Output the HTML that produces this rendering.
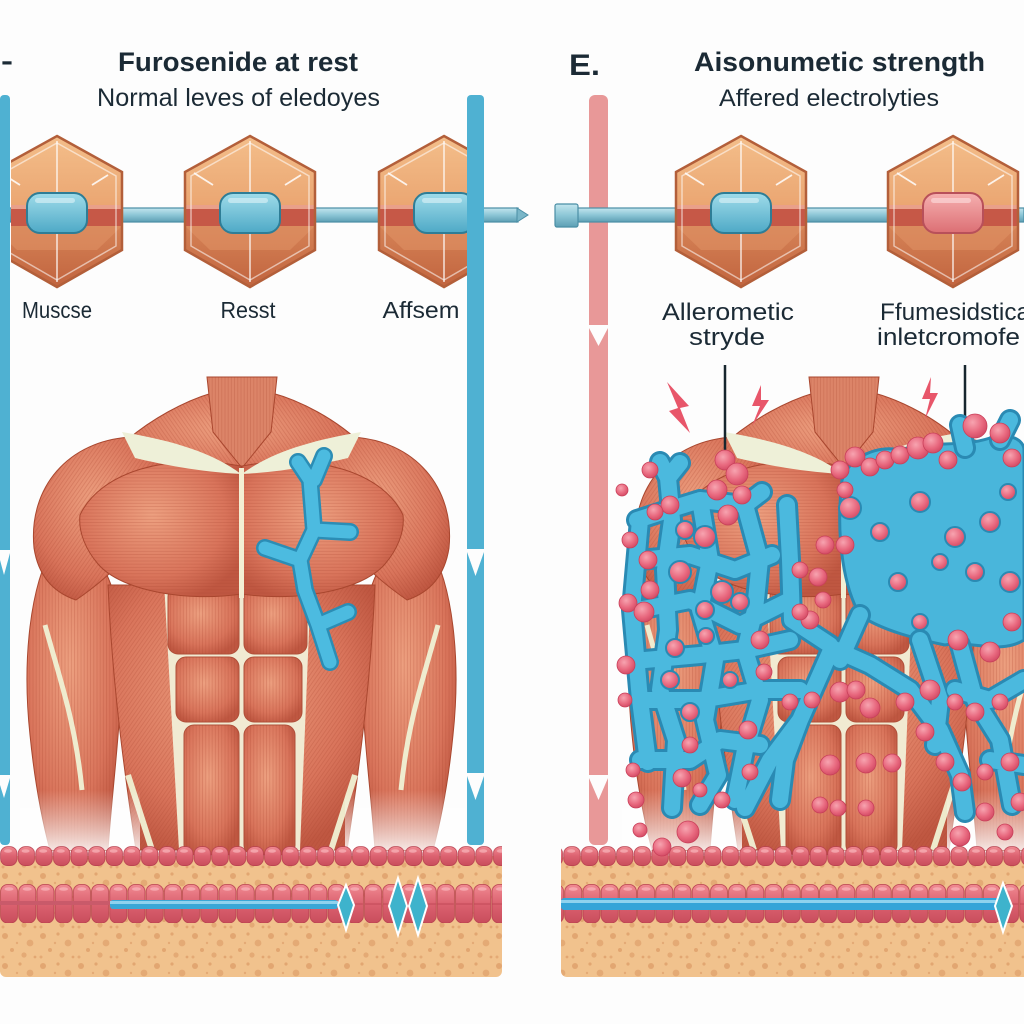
<!DOCTYPE html>
<html><head><meta charset="utf-8"><style>
html,body{margin:0;padding:0;background:#fdfdfd;}
svg{display:block;}
text{font-family:"Liberation Sans",sans-serif;fill:#1b2a35;}
</style></head><body>
<svg width="1024" height="1024" viewBox="0 0 1024 1024" xmlns="http://www.w3.org/2000/svg">
<defs>
  <linearGradient id="ht" x1="0" y1="0" x2="0" y2="1"><stop offset="0" stop-color="#f4c08c"/><stop offset="1" stop-color="#eaa470"/></linearGradient>
  <linearGradient id="hb" x1="0" y1="0" x2="0" y2="1"><stop offset="0" stop-color="#da8a5c"/><stop offset="1" stop-color="#c0623d"/></linearGradient>
  <linearGradient id="rod" x1="0" y1="0" x2="0" y2="1"><stop offset="0" stop-color="#c3e6ee"/><stop offset="0.5" stop-color="#8cc6d6"/><stop offset="1" stop-color="#5d9fb4"/></linearGradient>
  <linearGradient id="pb" x1="0" y1="0" x2="0" y2="1"><stop offset="0" stop-color="#9fdcea"/><stop offset="1" stop-color="#4ea9c6"/></linearGradient>
  <linearGradient id="pp" x1="0" y1="0" x2="0" y2="1"><stop offset="0" stop-color="#f6b0b0"/><stop offset="1" stop-color="#dc6f74"/></linearGradient>
  <radialGradient id="mg" cx="0.45" cy="0.4" r="0.65"><stop offset="0" stop-color="#eda080"/><stop offset="0.7" stop-color="#d9745b"/><stop offset="1" stop-color="#bf5741"/></radialGradient>
  <radialGradient id="pg" cx="0.4" cy="0.35" r="0.7"><stop offset="0" stop-color="#f7a4b0"/><stop offset="0.6" stop-color="#e8687e"/><stop offset="1" stop-color="#d04862"/></radialGradient>
  <linearGradient id="cellg" x1="0" y1="0" x2="0" y2="1"><stop offset="0" stop-color="#f08a92"/><stop offset="0.5" stop-color="#dc6270"/><stop offset="1" stop-color="#c94d5c"/></linearGradient>
  <linearGradient id="fadeW" x1="0" y1="0" x2="0" y2="1"><stop offset="0" stop-color="#fff" stop-opacity="0"/><stop offset="1" stop-color="#fff" stop-opacity="0.85"/></linearGradient>
  <pattern id="sv" width="3.2" height="20" patternUnits="userSpaceOnUse"><line x1="1" y1="0" x2="1" y2="20" stroke="#a84530" stroke-opacity="0.28" stroke-width="0.8"/></pattern>
  <pattern id="sd" width="3.2" height="20" patternUnits="userSpaceOnUse" patternTransform="rotate(35)"><line x1="1" y1="0" x2="1" y2="20" stroke="#a84530" stroke-opacity="0.28" stroke-width="0.8"/></pattern>
  <pattern id="sd2" width="3.2" height="20" patternUnits="userSpaceOnUse" patternTransform="rotate(-35)"><line x1="1" y1="0" x2="1" y2="20" stroke="#a84530" stroke-opacity="0.28" stroke-width="0.8"/></pattern>
  <pattern id="sh" width="20" height="3.2" patternUnits="userSpaceOnUse"><line x1="0" y1="1" x2="20" y2="1" stroke="#a84530" stroke-opacity="0.25" stroke-width="0.8"/></pattern>
  <pattern id="dots" width="38" height="30" patternUnits="userSpaceOnUse">
    <circle cx="5" cy="6" r="3" fill="#dc9a65" opacity="0.7"/><circle cx="20" cy="4" r="1.6" fill="#dc9a65" opacity="0.7"/>
    <circle cx="30" cy="13" r="3.4" fill="#dc9a65" opacity="0.6"/><circle cx="12" cy="20" r="2" fill="#dc9a65" opacity="0.7"/>
    <circle cx="24" cy="25" r="2.6" fill="#dc9a65" opacity="0.6"/><circle cx="35" cy="27" r="1.4" fill="#dc9a65" opacity="0.7"/>
    <circle cx="3" cy="27" r="1.5" fill="#dc9a65" opacity="0.6"/><circle cx="17" cy="13" r="1.2" fill="#dc9a65" opacity="0.6"/>
  </pattern>
  <pattern id="cells1" x="0" y="846" width="17.6" height="22" patternUnits="userSpaceOnUse">
    <rect x="0.6" y="0.6" width="16.4" height="19" rx="7" fill="url(#cellg)" stroke="#b8404f" stroke-width="0.8"/>
    <ellipse cx="8" cy="5" rx="4" ry="1.8" fill="#fbc0c4" opacity="0.6"/>
  </pattern>
  <pattern id="cells2" x="0" y="884" width="18.2" height="40" patternUnits="userSpaceOnUse">
    <rect x="0.6" y="0.5" width="17" height="38.5" rx="7" fill="url(#cellg)" stroke="#b8404f" stroke-width="0.8"/>
    <ellipse cx="9" cy="5" rx="4.5" ry="1.8" fill="#fbc0c4" opacity="0.6"/>
    <line x1="1" y1="20" x2="17" y2="20" stroke="#b8404f" stroke-width="0.8"/>
  </pattern>
  <clipPath id="hc"><polygon points="0,136 65,172 65,250 0,287 -65,250 -65,172"/></clipPath>
  <g id="hex">
    <g clip-path="url(#hc)">
      <rect x="-70" y="130" width="140" height="82" fill="url(#ht)"/>
      <rect x="-70" y="211" width="140" height="80" fill="url(#hb)"/>
      <polygon points="-65,226 65,226 40,250 -40,250" fill="#df9164" opacity="0.6"/>
      <rect x="-70" y="205" width="140" height="21" fill="#c65847"/>
      <rect x="-70" y="205" width="140" height="4" fill="#e9a08a"/>
    </g>
    <polygon points="0,136 65,172 65,250 0,287 -65,250 -65,172" fill="none" stroke="#b35f3a" stroke-width="2.5"/>
    <polygon points="0,143 59,176 59,246 0,280 -59,246 -59,176" fill="none" stroke="#fff" stroke-opacity="0.55" stroke-width="1.5"/>
    <line x1="0" y1="141" x2="0" y2="282" stroke="#fff" stroke-opacity="0.8" stroke-width="1.5"/>
    <line x1="-56" y1="173" x2="-37" y2="185" stroke="#fff" stroke-width="1.8" opacity="0.85"/>
    <line x1="35" y1="185" x2="51" y2="175" stroke="#fff" stroke-width="1.8" opacity="0.85"/>
  </g>
  <!-- torso -->
  <path id="trap" d="M118 448 C150 418 188 400 212 393 L272 393 C298 400 336 418 366 448 L330 482 L154 482 Z"/>
  <path id="neck" d="M207 377 L277 377 L271 432 L242 468 L213 432 Z"/>
  <path id="armL" d="M54 545 C30 585 22 660 30 735 C35 785 42 820 50 850 L108 850 C112 790 122 720 122 650 C120 595 104 552 76 542 Z"/>
  <path id="armR" d="M429 545 C453 585 461 660 453 735 C448 785 441 820 433 850 L375 850 C371 790 361 720 361 650 C363 595 379 552 407 542 Z"/>
  <path id="body" d="M108 585 C112 680 124 770 136 850 L347 850 C359 770 371 680 375 585 Z"/>
  <path id="deltL" d="M34 548 C28 488 68 440 132 437 C168 440 178 472 160 508 C140 548 108 578 76 600 C52 592 38 574 34 548 Z"/>
  <path id="deltR" d="M449 548 C455 488 415 440 351 437 C315 440 305 472 323 508 C343 548 375 578 407 600 C431 592 445 574 449 548 Z"/>
  <path id="pecL" d="M80 515 C100 472 168 452 241 466 L241 594 C190 602 122 592 98 564 C86 550 78 532 80 515 Z"/>
  <path id="pecR" d="M403 515 C383 472 315 452 242 466 L242 594 C293 602 361 592 385 564 C397 550 405 532 403 515 Z"/>
  <g id="abs">
    <rect x="168" y="587" width="71" height="67" rx="10"/>
    <rect x="244" y="587" width="63" height="67" rx="10"/>
    <rect x="176" y="657" width="63" height="65" rx="10"/>
    <rect x="244" y="657" width="58" height="65" rx="10"/>
    <rect x="184" y="725" width="55" height="130" rx="10"/>
    <rect x="244" y="725" width="51" height="130" rx="10"/>
  </g>
  <g id="torso">
    <use href="#trap" fill="url(#mg)" stroke="#a9472f"/><use href="#trap" fill="url(#sd2)"/>
    <use href="#neck" fill="#dc8468" stroke="#a9472f"/><use href="#neck" fill="url(#sv)"/>
    <use href="#armL" fill="url(#mg)" stroke="#a9472f"/><use href="#armL" fill="url(#sv)"/>
    <use href="#armR" fill="url(#mg)" stroke="#a9472f"/><use href="#armR" fill="url(#sv)"/>
    <use href="#body" fill="url(#mg)" stroke="#a9472f"/><use href="#body" fill="url(#sd)"/>
    <path d="M45 625 C60 680 75 720 82 790" stroke="#efeccf" stroke-width="5" fill="none"/>
    <path d="M438 625 C423 680 408 720 401 790" stroke="#efeccf" stroke-width="5" fill="none"/>
    <path d="M164 582 L311 582 L300 850 L179 850 Z" fill="#f1ead2"/>
    <path d="M128 775 L152 850 M355 775 L331 850" stroke="#eeeacc" stroke-width="6" fill="none"/>
    <use href="#abs" fill="url(#mg)" stroke="#b0503a"/><use href="#abs" fill="url(#sv)"/>
    <use href="#deltL" fill="url(#mg)" stroke="#a9472f"/><use href="#deltL" fill="url(#sd)"/>
    <use href="#deltR" fill="url(#mg)" stroke="#a9472f"/><use href="#deltR" fill="url(#sd2)"/>
    <use href="#pecL" fill="url(#mg)" stroke="#a9472f"/><use href="#pecL" fill="url(#sh)"/>
    <use href="#pecR" fill="url(#mg)" stroke="#a9472f"/><use href="#pecR" fill="url(#sh)"/>
    <path d="M122 432 C170 440 212 452 241 474 C200 472 160 464 135 458 Z" fill="#eef0d8"/>
    <path d="M361 432 C313 440 271 452 242 474 C283 472 323 464 348 458 Z" fill="#eef0d8"/>
    <line x1="241.5" y1="468" x2="241.5" y2="598" stroke="#f3efd4" stroke-width="5"/>
    <rect x="20" y="790" width="120" height="60" fill="url(#fadeW)"/>
    <rect x="345" y="790" width="120" height="60" fill="url(#fadeW)"/>
  </g>
  <path id="net" d="M668 478 L672 520 L665 570 L668 630 L660 690 L676 740 L672 808
M700 500 L710 560 L700 610 L715 660 L705 720 L718 775 L700 805
M637 520 L668 510 L700 500 L745 505 L762 492
M640 560 L690 555 L735 570 L772 555
M638 610 L690 600 L740 625 L790 600
M645 660 L700 655 L745 650 L790 640
M640 700 L700 700 L760 690 L800 690
M640 760 L690 760 L720 740 L760 745
M745 505 L760 560 L755 610 L745 650 L760 700 L745 750 L735 800
M787 505 L790 560 L792 620 L830 645
M745 808 L770 760 L800 720 L832 648 L870 665 L910 690 L940 730 L960 775 L965 812
M800 720 L785 760 L780 800
M640 520 L632 610 L640 700 L648 762
M960 645 L975 700 L1000 740 L1012 805
M920 640 L940 700 L935 745
M1024 680 L990 700 L955 690
M1024 765 L990 760
M860 615 L840 660 L832 648
M668 478 L660 462 M668 478 L680 463
M1000 440 L1010 420 M965 448 L960 425"/>
</defs>

<rect width="1024" height="1024" fill="#fdfdfd"/>

<!-- ===== LEFT PANEL ===== -->
<text x="1" y="70" font-size="27" font-weight="bold" textLength="12" lengthAdjust="spacingAndGlyphs">-</text>
<text x="238" y="71" font-size="27" font-weight="bold" text-anchor="middle" textLength="240" lengthAdjust="spacingAndGlyphs">Furosenide at rest</text>
<text x="238.5" y="106" font-size="25" text-anchor="middle" textLength="283" lengthAdjust="spacingAndGlyphs">Normal leves of eledoyes</text>

<rect x="10" y="208" width="508" height="14" fill="url(#rod)" stroke="#4a8ea5" stroke-width="1.2"/>
<polygon points="517,208 528,215 517,222" fill="#79b6c8" stroke="#4a8ea5" stroke-width="1"/>

<svg x="11" y="0" width="456" height="400" viewBox="11 0 456 400" overflow="hidden">
  <use href="#hex" transform="translate(57,0)"/>
  <use href="#hex" transform="translate(250,0)"/>
  <use href="#hex" transform="translate(444,0)"/>
  <rect x="27" y="193" width="60" height="40" rx="13" fill="url(#pb)" stroke="#2e7d96" stroke-width="2"/>
  <rect x="220" y="193" width="60" height="40" rx="13" fill="url(#pb)" stroke="#2e7d96" stroke-width="2"/>
  <rect x="414" y="193" width="60" height="40" rx="13" fill="url(#pb)" stroke="#2e7d96" stroke-width="2"/>
</svg>
<rect x="35" y="198" width="40" height="5" rx="2.5" fill="#dff4f8" opacity="0.6"/>
<rect x="228" y="198" width="40" height="5" rx="2.5" fill="#dff4f8" opacity="0.6"/>
<rect x="422" y="198" width="40" height="5" rx="2.5" fill="#dff4f8" opacity="0.6"/>

<text x="57" y="318" font-size="23" text-anchor="middle" textLength="70" lengthAdjust="spacingAndGlyphs">Muscse</text>
<text x="248" y="318" font-size="23" text-anchor="middle" textLength="55" lengthAdjust="spacingAndGlyphs">Resst</text>
<text x="421" y="318" font-size="23" text-anchor="middle" textLength="77" lengthAdjust="spacingAndGlyphs">Affsem</text>

<use href="#torso"/>

<g fill="none" stroke-linecap="round" stroke-linejoin="round">
  <path d="M298 462 L310 480 L314 530 L300 560 L305 590 L318 625 L330 662 M324 456 L314 480 M314 530 L350 532 M300 560 L265 548 M318 625 L348 612" stroke="#2b8db5" stroke-width="18"/>
  <path d="M298 462 L310 480 L314 530 L300 560 L305 590 L318 625 L330 662 M324 456 L314 480 M314 530 L350 532 M300 560 L265 548 M318 625 L348 612" stroke="#4cbbe0" stroke-width="13"/>
</g>

<rect x="0" y="95" width="10" height="750" rx="4" fill="#4fb1d2"/>
<rect x="467" y="95" width="17" height="750" rx="4" fill="#4fb1d2"/>
<g fill="#fdfdfd">
  <rect x="0" y="550" width="12" height="3"/><polygon points="0,553 10,553 4,575 0,560"/>
  <rect x="0" y="775" width="12" height="3"/><polygon points="0,778 10,778 4,798 0,785"/>
  <rect x="465" y="549" width="21" height="3"/><polygon points="467,552 484,552 475.5,576"/>
  <rect x="465" y="773" width="21" height="3"/><polygon points="467,776 484,776 475.5,800"/>
</g>

<rect x="0" y="856" width="502" height="121" rx="6" fill="#f1c28d"/>
<rect x="0" y="856" width="502" height="121" rx="6" fill="url(#dots)"/>
<rect x="0" y="846" width="502" height="20" fill="url(#cells1)"/>
<rect x="0" y="884" width="502" height="39" fill="url(#cells2)"/>
<rect x="0" y="901" width="115" height="4" fill="#c95a6a"/>
<rect x="110" y="900" width="228" height="9" rx="3" fill="#3aa7d6"/>
<rect x="110" y="901" width="228" height="3" fill="#8fd2ee"/>
<g stroke="#fff" stroke-width="2" fill="#3eb3cc">
  <polygon points="346,885 354,905 346,930 338,905"/>
  <polygon points="398,878 407,906 398,935 389,906"/>
  <polygon points="418,878 427,906 418,935 409,906"/>
</g>

<!-- ===== RIGHT PANEL ===== -->
<text x="569" y="75" font-size="30" font-weight="bold" textLength="31" lengthAdjust="spacingAndGlyphs">E.</text>
<text x="839.5" y="71" font-size="27" font-weight="bold" text-anchor="middle" textLength="291" lengthAdjust="spacingAndGlyphs">Aisonumetic strength</text>
<text x="829" y="106" font-size="24" text-anchor="middle" textLength="220" lengthAdjust="spacingAndGlyphs">Affered electrolyties</text>

<rect x="589" y="95" width="19" height="750" rx="6" fill="#e89898"/>
<g fill="#fdfdfd">
  <rect x="587" y="325" width="23" height="3"/><polygon points="589,328 608,328 598.5,346"/>
  <rect x="587" y="775" width="23" height="3"/><polygon points="589,778 608,778 598.5,800"/>
</g>

<rect x="576" y="208" width="448" height="14" fill="url(#rod)" stroke="#4a8ea5" stroke-width="1.2"/>
<rect x="555" y="204" width="23" height="23" rx="2" fill="url(#rod)" stroke="#4a8ea5" stroke-width="1.2"/>

<use href="#hex" transform="translate(741,0)"/>
<use href="#hex" transform="translate(953,0)"/>
<rect x="711" y="193" width="60" height="40" rx="13" fill="url(#pb)" stroke="#2e7d96" stroke-width="2"/>
<rect x="719" y="198" width="40" height="5" rx="2.5" fill="#dff4f8" opacity="0.6"/>
<rect x="923" y="193" width="60" height="40" rx="13" fill="url(#pp)" stroke="#b8505a" stroke-width="2"/>
<rect x="931" y="198" width="40" height="5" rx="2.5" fill="#fde0e0" opacity="0.6"/>

<text x="728" y="320" font-size="24" text-anchor="middle" textLength="132" lengthAdjust="spacingAndGlyphs">Allerometic</text>
<text x="727" y="345" font-size="24" text-anchor="middle" textLength="76" lengthAdjust="spacingAndGlyphs">stryde</text>
<text x="880" y="320" font-size="24" textLength="150" lengthAdjust="spacingAndGlyphs">Ffumesidstica</text>
<text x="877" y="345" font-size="24" textLength="143" lengthAdjust="spacingAndGlyphs">inletcromofe</text>

<use href="#torso" transform="translate(602,0)"/>

<line x1="725" y1="365" x2="725" y2="452" stroke="#17262e" stroke-width="2.5"/>
<line x1="965" y1="365" x2="965" y2="452" stroke="#17262e" stroke-width="2.5"/>

<g fill="#e8566a">
  <polygon points="667,382 689,406 680,408 690,433 669,411 678,408"/>
  <polygon points="761,385 752,406 760,406 752,426 769,400 761,400"/>
  <polygon points="931,377 922,399 930,399 925,419 938,393 930,393"/>
</g>

<path d="M842 480 C850 455 880 445 900 450 C930 440 960 448 990 438 C1010 432 1024 440 1024 450 L1024 640 C1000 655 970 640 945 645 C920 640 880 630 860 615 C845 590 835 540 842 480 Z" fill="#49b6db" stroke="#2a8ab3" stroke-width="3"/>
<use href="#net" fill="none" stroke="#2a8ab3" stroke-width="22" stroke-linecap="round" stroke-linejoin="round"/>
<use href="#net" fill="none" stroke="#4bb9de" stroke-width="16" stroke-linecap="round" stroke-linejoin="round"/>

<rect x="561" y="856" width="470" height="121" rx="6" fill="#f1c28d"/>
<rect x="561" y="856" width="470" height="121" rx="6" fill="url(#dots)"/>
<rect x="561" y="846" width="463" height="20" fill="url(#cells1)"/>
<rect x="561" y="884" width="463" height="39" fill="url(#cells2)"/>
<rect x="561" y="898" width="440" height="12" rx="3" fill="#35a4d8"/>
<rect x="561" y="900" width="440" height="3" fill="#8fd2ee"/>
<polygon points="1003,883 1012,906 1003,932 995,906" fill="#3eb3cc" stroke="#fff" stroke-width="2"/>

<g fill="url(#pg)" stroke="#2a8ab3" stroke-width="2">
<circle cx="685" cy="530" r="9"/><circle cx="705" cy="537" r="11"/><circle cx="680" cy="572" r="11"/><circle cx="722" cy="592" r="11"/>
<circle cx="705" cy="610" r="9"/><circle cx="675" cy="648" r="9"/><circle cx="706" cy="636" r="8"/><circle cx="740" cy="602" r="9"/>
<circle cx="670" cy="680" r="9"/><circle cx="730" cy="680" r="8"/><circle cx="690" cy="712" r="9"/>
<circle cx="850" cy="508" r="11"/><circle cx="880" cy="532" r="9"/><circle cx="920" cy="502" r="10"/><circle cx="955" cy="537" r="10"/>
<circle cx="990" cy="522" r="10"/><circle cx="1008" cy="492" r="8"/><circle cx="898" cy="582" r="9"/><circle cx="940" cy="562" r="8"/>
<circle cx="975" cy="572" r="9"/><circle cx="1010" cy="582" r="10"/><circle cx="920" cy="622" r="8"/>
</g>
<g fill="url(#pg)" stroke="#c9405a" stroke-width="0.8">
<circle cx="622" cy="490" r="6"/><circle cx="630" cy="540" r="8"/><circle cx="628" cy="603" r="9"/><circle cx="626" cy="665" r="9"/>
<circle cx="625" cy="700" r="7"/><circle cx="633" cy="770" r="7"/><circle cx="636" cy="800" r="8"/><circle cx="640" cy="830" r="7"/>
<circle cx="644" cy="612" r="10"/><circle cx="650" cy="590" r="9"/><circle cx="648" cy="560" r="9"/>
<circle cx="725" cy="460" r="10"/><circle cx="737" cy="474" r="11"/><circle cx="717" cy="490" r="10"/><circle cx="742" cy="495" r="9"/>
<circle cx="728" cy="515" r="10"/><circle cx="670" cy="505" r="9"/><circle cx="655" cy="512" r="8"/><circle cx="650" cy="470" r="8"/>
<circle cx="760" cy="640" r="9"/>
<circle cx="764" cy="672" r="8"/><circle cx="748" cy="730" r="9"/><circle cx="750" cy="772" r="8"/><circle cx="690" cy="745" r="8"/>
<circle cx="700" cy="790" r="7"/><circle cx="722" cy="800" r="8"/><circle cx="682" cy="778" r="9"/>
<circle cx="825" cy="545" r="9"/><circle cx="818" cy="577" r="9"/><circle cx="810" cy="620" r="9"/><circle cx="800" cy="612" r="8"/>
<circle cx="823" cy="600" r="8"/><circle cx="800" cy="570" r="8"/><circle cx="790" cy="702" r="8"/><circle cx="812" cy="700" r="8"/>
<circle cx="840" cy="692" r="10"/><circle cx="856" cy="690" r="9"/><circle cx="870" cy="708" r="10"/>
<circle cx="830" cy="765" r="10"/><circle cx="866" cy="763" r="10"/><circle cx="892" cy="763" r="9"/>
<circle cx="820" cy="805" r="8"/><circle cx="838" cy="808" r="8"/><circle cx="866" cy="808" r="8"/>
<circle cx="840" cy="470" r="9"/><circle cx="855" cy="457" r="10"/><circle cx="870" cy="467" r="9"/><circle cx="885" cy="460" r="9"/>
<circle cx="900" cy="455" r="9"/><circle cx="918" cy="448" r="11"/><circle cx="933" cy="443" r="10"/><circle cx="948" cy="460" r="9"/>
<circle cx="975" cy="426" r="12"/><circle cx="1000" cy="433" r="10"/><circle cx="1012" cy="458" r="9"/><circle cx="845" cy="490" r="8"/>
<circle cx="958" cy="640" r="10"/>
<circle cx="990" cy="652" r="10"/><circle cx="1012" cy="622" r="9"/><circle cx="845" cy="545" r="9"/>
<circle cx="955" cy="702" r="8"/><circle cx="975" cy="712" r="9"/><circle cx="1000" cy="702" r="8"/><circle cx="930" cy="690" r="10"/>
<circle cx="905" cy="702" r="9"/><circle cx="925" cy="732" r="9"/><circle cx="945" cy="762" r="9"/><circle cx="962" cy="782" r="9"/>
<circle cx="985" cy="772" r="8"/><circle cx="1010" cy="762" r="9"/><circle cx="1020" cy="802" r="9"/><circle cx="985" cy="812" r="9"/>
<circle cx="1005" cy="832" r="8"/><circle cx="960" cy="836" r="10"/><circle cx="662" cy="847" r="9"/><circle cx="688" cy="832" r="11"/>
</g>
</svg>
</body></html>
